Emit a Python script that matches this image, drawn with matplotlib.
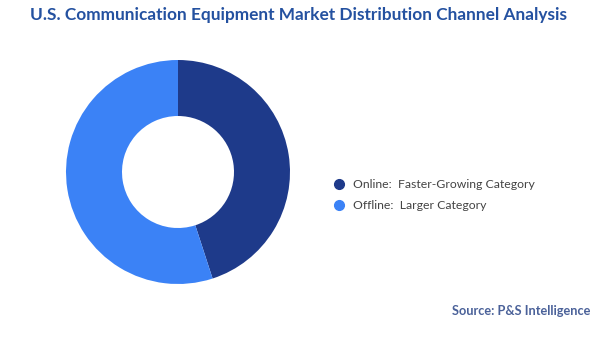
import matplotlib.pyplot as plt
from matplotlib.lines import Line2D

plt.rcParams['font.family'] = ['Lato', 'DejaVu Sans']

channels = ['Online', 'Offline']
descriptions = ['Faster-Growing Category', 'Larger Category']
shares = [45, 55]
colors = ['#1e3a8a', '#3b82f6']

fig = plt.figure(figsize=(6, 3.37), dpi=100)

# donut
ax = fig.add_axes([66 / 600, 53 / 337, 224 / 600, 224 / 337])
ax.pie(shares, colors=colors, startangle=90, counterclock=False,
       radius=1, wedgeprops=dict(width=0.5, edgecolor='none'))
ax.set_xlim(-1, 1)
ax.set_ylim(-1, 1)
ax.set_aspect('equal')
ax.axis('off')

fig.text(0.497, 0.955, 'U.S. Communication Equipment Market Distribution Channel Analysis',
         ha='center', va='center', fontsize=12.4, fontweight='bold', color='#2451a0')

handles = [Line2D([], [], marker='o', linestyle='none', markersize=7,
                  markerfacecolor=c, markeredgecolor=c) for c in colors]
labels = [f'{ch}:  {d}' for ch, d in zip(channels, descriptions)]
fig.legend(handles, labels, loc='center left', bbox_to_anchor=(322 / 600, 1 - 195 / 337),
           frameon=False, fontsize=8.8, handletextpad=0.6, labelspacing=0.85,
           labelcolor='#444444', handlelength=1.0)

fig.text(590 / 600, 1 - 311 / 337, 'Source: P&S Intelligence', ha='right', va='center',
         fontsize=9.2, fontweight='bold', color='#4a6199')

fig.savefig('out.png', dpi=100, facecolor='white')
